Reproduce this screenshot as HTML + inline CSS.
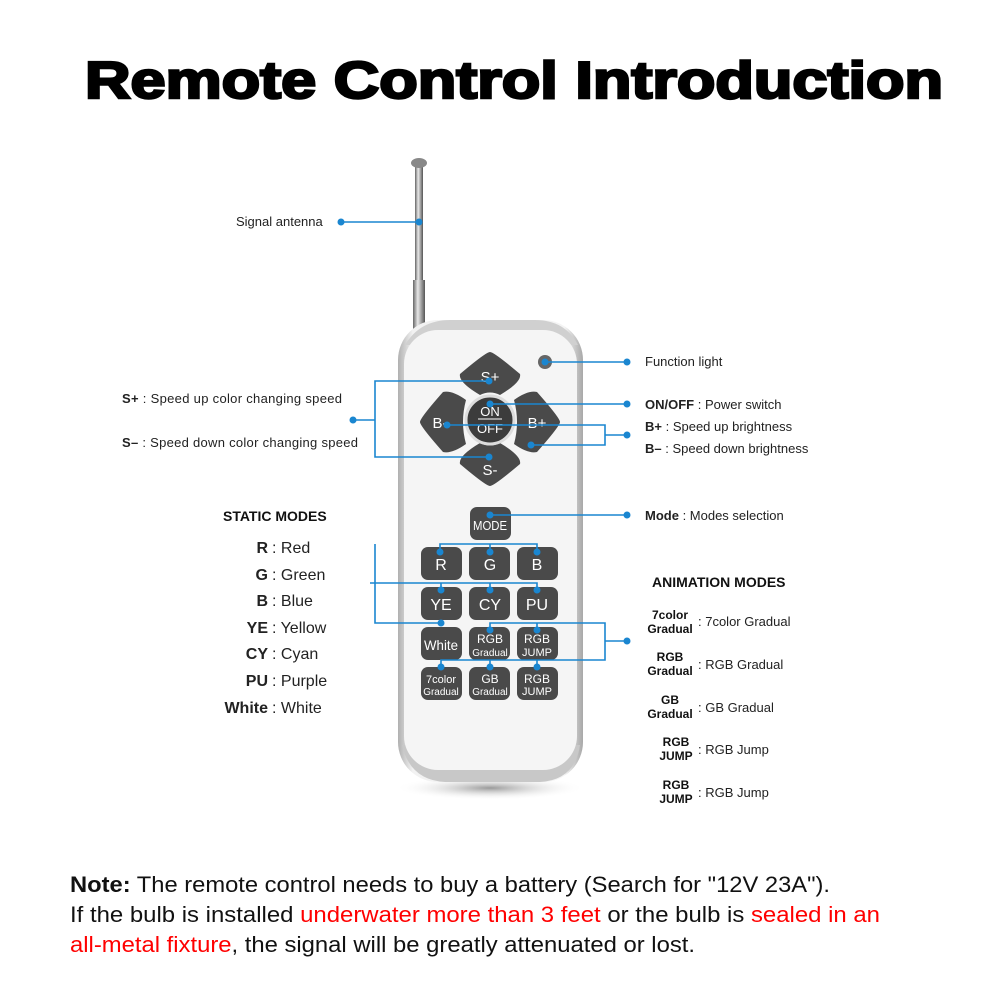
<!DOCTYPE html>
<html><head><meta charset="utf-8"><style>
body{margin:0;background:#fff;}
svg{display:block}
.t{font-family:"Liberation Sans",sans-serif;}
</style></head><body>
<svg width="1000" height="1000" viewBox="0 0 1000 1000" class="t">
<defs>
<linearGradient id="ant" x1="0" x2="1"><stop offset="0" stop-color="#666"/><stop offset=".4" stop-color="#e8e8e8"/><stop offset="1" stop-color="#555"/></linearGradient>
<linearGradient id="body" x1="0" x2="1"><stop offset="0" stop-color="#b0b0b0"/><stop offset=".08" stop-color="#f2f2f2"/><stop offset=".9" stop-color="#f4f4f4"/><stop offset="1" stop-color="#a8a8a8"/></linearGradient>
<radialGradient id="sh" cx=".5" cy=".5" r=".5"><stop offset="0" stop-color="#999"/><stop offset="1" stop-color="#fff" stop-opacity="0"/></radialGradient>
</defs>
<text x="514" y="98" text-anchor="middle" font-size="52" font-weight="bold" textLength="858" lengthAdjust="spacingAndGlyphs" fill="#000" stroke="#000" stroke-width="2.5">Remote Control Introduction</text>

<rect x="415" y="166" width="8" height="120" fill="url(#ant)"/>
<rect x="413" y="280" width="12" height="50" fill="url(#ant)"/>
<ellipse cx="419" cy="163" rx="8" ry="5" fill="#888"/>
<ellipse cx="490" cy="788" rx="95" ry="12" fill="url(#sh)"/>
<rect x="398" y="320" width="185" height="462" rx="40" fill="url(#body)"/>
<path d="M405 345 Q420 320 450 320 L535 320 Q565 320 578 345 Z" fill="#d0d0d0"/>
<path d="M402 745 Q410 780 445 782 L540 782 Q575 780 580 745 Z" fill="#c8c8c8"/>
<rect x="404" y="330" width="173" height="440" rx="34" fill="#f5f5f5"/>
<circle cx="545" cy="362" r="7" fill="#666"/>

<g fill="#4a4a4a">
<path d="M490 352 Q494 352 520 374 Q522 382 500 395 Q490 390 480 395 Q458 382 460 374 Q486 352 490 352Z"/>
<path d="M490 486 Q494 486 520 464 Q522 456 500 443 Q490 448 480 443 Q458 456 460 464 Q486 486 490 486Z"/>
<path d="M420 422 Q420 418 443 392 Q452 390 466 400 Q460 422 466 444 Q452 454 443 452 Q420 426 420 422Z"/>
<path d="M560 422 Q560 418 537 392 Q528 390 514 400 Q520 422 514 444 Q528 454 537 452 Q560 426 560 422Z"/>
<circle cx="490" cy="420" r="24" fill="#3c3c3c" stroke="#ddd" stroke-width="3"/>
<rect x="470" y="507" width="41" height="33" rx="7"/>
<rect x="421" y="547" width="41" height="33" rx="7"/><rect x="469" y="547" width="41" height="33" rx="7"/><rect x="517" y="547" width="41" height="33" rx="7"/>
<rect x="421" y="587" width="41" height="33" rx="7"/><rect x="469" y="587" width="41" height="33" rx="7"/><rect x="517" y="587" width="41" height="33" rx="7"/>
<rect x="421" y="627" width="41" height="33" rx="7"/><rect x="469" y="627" width="41" height="33" rx="7"/><rect x="517" y="627" width="41" height="33" rx="7"/>
<rect x="421" y="667" width="41" height="33" rx="7"/><rect x="469" y="667" width="41" height="33" rx="7"/><rect x="517" y="667" width="41" height="33" rx="7"/>
</g>
<g fill="#fff" text-anchor="middle">
<text x="490" y="382" font-size="15">S+</text>
<text x="490" y="475" font-size="15">S-</text>
<text x="440" y="428" font-size="15">B-</text>
<text x="537" y="428" font-size="15">B+</text>
<text x="490" y="416" font-size="13">ON</text>
<line x1="478" y1="419" x2="502" y2="419" stroke="#fff" stroke-width="1"/>
<text x="490" y="433" font-size="13">OFF</text>
<text x="490" y="530" font-size="13" textLength="34" lengthAdjust="spacingAndGlyphs">MODE</text>
<text x="441" y="570" font-size="16">R</text><text x="490" y="570" font-size="16">G</text><text x="537" y="570" font-size="16">B</text>
<text x="441" y="610" font-size="16">YE</text><text x="490" y="610" font-size="16">CY</text><text x="537" y="610" font-size="16">PU</text>
<text x="441" y="650" font-size="14" textLength="34" lengthAdjust="spacingAndGlyphs">White</text>
<text x="490" y="643" font-size="12">RGB</text><text x="490" y="656" font-size="10">Gradual</text>
<text x="537" y="643" font-size="12">RGB</text><text x="537" y="656" font-size="11">JUMP</text>
<text x="441" y="683" font-size="11">7color</text><text x="441" y="695" font-size="10">Gradual</text>
<text x="490" y="683" font-size="12">GB</text><text x="490" y="695" font-size="10">Gradual</text>
<text x="537" y="683" font-size="12">RGB</text><text x="537" y="695" font-size="11">JUMP</text>
</g>

<g stroke="#1a86d0" stroke-width="1.6" fill="none">
<path d="M341 222 H419"/>
<path d="M545 362 H627"/>
<path d="M489 381 H375 V457 H489 M375 420 H353"/>
<path d="M490 404 H627"/>
<path d="M447 425 H605 V445 H531 M605 435 H627"/>
<path d="M490 515 H627"/>
<path d="M440 552 V544 H537 V552 M490 544 V552 M375 544 V623 H441 M370 583 H537 V590 M441 583 V590 M490 583 V590"/>
<path d="M490 630 V623 H605 V660 H441 V667 M537 623 V630 M490 660 V667 M537 660 V667 M605 641 H627"/>
</g>
<g fill="#1a86d0">
<circle cx="341" cy="222" r="3.5"/><circle cx="419" cy="222" r="3.5"/>
<circle cx="545" cy="362" r="3.5"/><circle cx="627" cy="362" r="3.5"/>
<circle cx="489" cy="381" r="3.5"/><circle cx="489" cy="457" r="3.5"/><circle cx="353" cy="420" r="3.5"/>
<circle cx="490" cy="404" r="3.5"/><circle cx="627" cy="404" r="3.5"/>
<circle cx="447" cy="425" r="3.5"/><circle cx="531" cy="445" r="3.5"/><circle cx="627" cy="435" r="3.5"/>
<circle cx="490" cy="515" r="3.5"/><circle cx="627" cy="515" r="3.5"/>
<circle cx="440" cy="552" r="3.5"/><circle cx="490" cy="552" r="3.5"/><circle cx="537" cy="552" r="3.5"/>
<circle cx="441" cy="590" r="3.5"/><circle cx="490" cy="590" r="3.5"/><circle cx="537" cy="590" r="3.5"/>
<circle cx="441" cy="623" r="3.5"/><circle cx="490" cy="630" r="3.5"/><circle cx="537" cy="630" r="3.5"/>
<circle cx="441" cy="667" r="3.5"/><circle cx="490" cy="667" r="3.5"/><circle cx="537" cy="667" r="3.5"/>
<circle cx="627" cy="641" r="3.5"/>
</g>

<g font-size="13" fill="#222">
<text x="236" y="226">Signal antenna</text>
<text x="645" y="366">Function light</text>
<text x="645" y="409"><tspan font-weight="bold">ON/OFF</tspan> : Power switch</text>
<text x="645" y="431"><tspan font-weight="bold">B+</tspan> : Speed up brightness</text>
<text x="645" y="453"><tspan font-weight="bold">B–</tspan> : Speed down brightness</text>
<text x="645" y="520"><tspan font-weight="bold">Mode</tspan> : Modes selection</text>
<text x="122" y="403" textLength="220"><tspan font-weight="bold">S+</tspan> : Speed up color changing speed</text>
<text x="122" y="447" textLength="236"><tspan font-weight="bold">S–</tspan> : Speed down color changing speed</text>
</g>
<text x="223" y="521" font-size="14" font-weight="bold" fill="#111">STATIC MODES</text>
<g font-size="16" fill="#222" text-anchor="end">
<text x="268" y="553" font-weight="bold">R</text><text x="268" y="580" font-weight="bold">G</text><text x="268" y="606" font-weight="bold">B</text>
<text x="268" y="633" font-weight="bold">YE</text><text x="268" y="659" font-weight="bold">CY</text><text x="268" y="686" font-weight="bold">PU</text><text x="268" y="713" font-weight="bold">White</text>
</g>
<g font-size="16" fill="#222">
<text x="272" y="553">: Red</text><text x="272" y="580">: Green</text><text x="272" y="606">: Blue</text>
<text x="272" y="633">: Yellow</text><text x="272" y="659">: Cyan</text><text x="272" y="686">: Purple</text><text x="272" y="713">: White</text>
</g>
<text x="652" y="587" font-size="14" font-weight="bold" fill="#111">ANIMATION MODES</text>
<g font-size="12" font-weight="bold" fill="#111" text-anchor="middle">
<text x="670" y="619">7color</text><text x="670" y="633">Gradual</text>
<text x="670" y="661">RGB</text><text x="670" y="675">Gradual</text>
<text x="670" y="704">GB</text><text x="670" y="718">Gradual</text>
<text x="676" y="746">RGB</text><text x="676" y="760">JUMP</text>
<text x="676" y="789">RGB</text><text x="676" y="803">JUMP</text>
</g>
<g font-size="13" fill="#222">
<text x="698" y="626">: 7color Gradual</text>
<text x="698" y="669">: RGB Gradual</text>
<text x="698" y="712">: GB Gradual</text>
<text x="698" y="754">: RGB Jump</text>
<text x="698" y="797">: RGB Jump</text>
</g>

<g font-size="22" fill="#111">
<text x="70" y="892" textLength="760" lengthAdjust="spacingAndGlyphs"><tspan font-weight="bold">Note:</tspan> The remote control needs to buy a battery (Search for "12V 23A").</text>
<text x="70" y="922" textLength="810" lengthAdjust="spacingAndGlyphs">If the bulb is installed <tspan fill="#f00">underwater more than 3 feet</tspan> or the bulb is <tspan fill="#f00">sealed in an</tspan></text>
<text x="70" y="952" textLength="625" lengthAdjust="spacingAndGlyphs"><tspan fill="#f00">all-metal fixture</tspan>, the signal will be greatly attenuated or lost.</text>
</g>
</svg>
</body></html>
